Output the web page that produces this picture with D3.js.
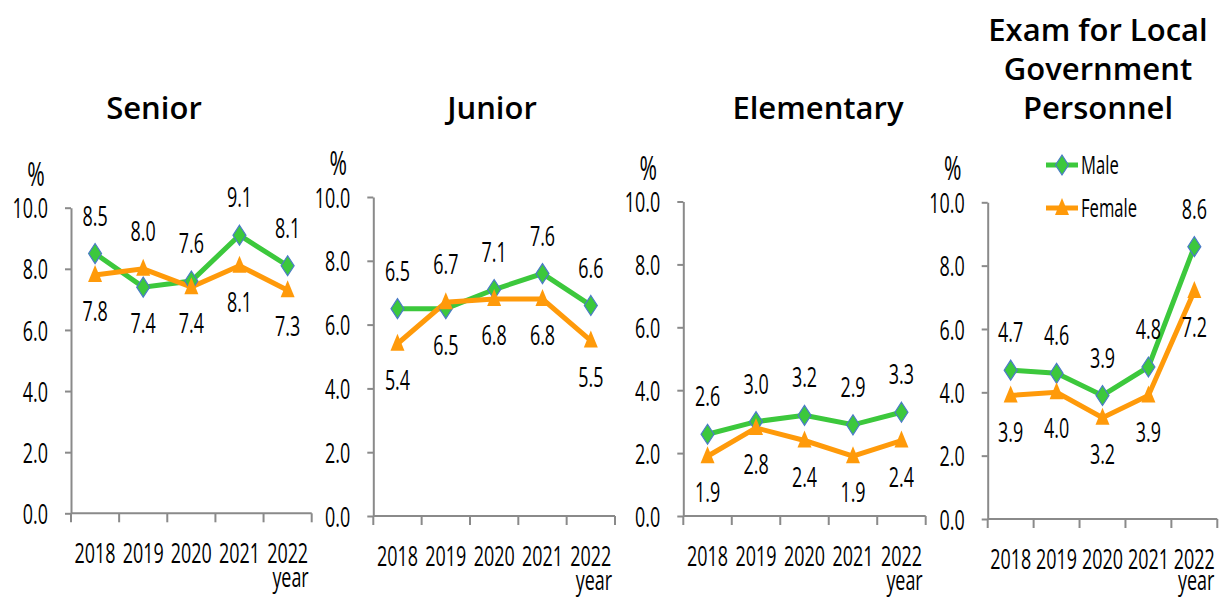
<!DOCTYPE html>
<html><head><meta charset="utf-8">
<script src="https://cdn.jsdelivr.net/npm/d3@7"></script>
<style>body{margin:0;background:#fff}svg{display:block}</style>
</head><body>
<svg id="c" width="1220" height="599"></svg>
<script>
// ---- data ----
const years = ["2018","2019","2020","2021","2022"];
const panelTitles = [["Senior"],["Junior"],["Elementary"],["Exam for Local","Government","Personnel"]];
const maleValues = [
  [8.5, 7.4, 7.6, 9.1, 8.1],
  [6.5, 6.5, 7.1, 7.6, 6.6],
  [2.6, 3.0, 3.2, 2.9, 3.3],
  [4.7, 4.6, 3.9, 4.8, 8.6]
];
const femaleValues = [
  [7.8, 8.0, 7.4, 8.1, 7.3],
  [5.4, 6.7, 6.8, 6.8, 5.5],
  [1.9, 2.8, 2.4, 1.9, 2.4],
  [3.9, 4.0, 3.2, 3.9, 7.2]
];
const yTicks = [0, 2, 4, 6, 8, 10];
const seriesNames = ["Male", "Female"];

// ---- layout ----
const layout = [
  {x0: 71,    x1: 311.7,  yTop: 207.7, yBot: 513.3, tx: 154},
  {x0: 373.3, x1: 615,    yTop: 197,   yBot: 516,   tx: 492},
  {x0: 683.3, x1: 925.7,  yTop: 201.5, yBot: 516,   tx: 818},
  {x0: 987.7, x1: 1217.3, yTop: 202.3, yBot: 519,   tx: 1098}
];
const GREEN = "#3cc83c", ORANGE = "#ff9a0a", AXIS = "#8a8a8a";
const SX = 0.64;            // horizontal squeeze of the small text
const FONT = "'Open Sans', sans-serif";
const svg = d3.select("#c");

function txt(g, x, y, s, size, anchor, extra) {
  const t = g.append("text")
    .attr("transform", `translate(${x},${y}) scale(${SX},1)`)
    .attr("text-anchor", anchor || "middle")
    .attr("font-family", FONT)
    .attr("font-size", size)
    .attr("fill", "#000")
    .text(s);
  if (extra) extra(t);
  return t;
}
const diamond = (cx, cy) => `M${cx},${cy-10}L${cx+6.5},${cy}L${cx},${cy+10}L${cx-6.5},${cy}Z`;
const triangle = (cx, cy) => `M${cx},${cy-10}L${cx+7},${cy+7}L${cx-7},${cy+7}Z`;

layout.forEach((L, i) => {
  const g = svg.append("g");
  const x = d3.scaleBand().domain(years).range([L.x0, L.x1]).padding(0);
  const y = d3.scaleLinear().domain([0, 10]).range([L.yBot, L.yTop]);

  // title
  const tl = panelTitles[i];
  tl.forEach((line, k) => {
    g.append("text").attr("x", L.tx).attr("y", 119 - (tl.length - 1 - k) * 39)
      .attr("text-anchor", "middle").attr("font-family", FONT)
      .attr("font-weight", 600).attr("font-size", 31).attr("fill", "#000").text(line);
  });

  // y axis
  const ya = g.append("g").attr("transform", `translate(${L.x0},0)`)
    .call(d3.axisLeft(y).tickValues(yTicks).tickFormat(d3.format(".1f")).tickSize(6).tickSizeOuter(0));
  ya.selectAll("path,line").attr("stroke", AXIS).attr("stroke-width", 2);
  ya.selectAll("text").attr("x", null).attr("dy", "0.36em")
    .attr("transform", `translate(-23,0) scale(${SX},1)`)
    .attr("font-family", FONT).attr("font-size", 28).attr("fill", "#000");

  // % unit
  txt(g, L.x0 - 35, L.yTop - 22, "%", 33, "middle");

  // x axis
  g.append("line").attr("x1", L.x0).attr("x2", L.x1).attr("y1", L.yBot).attr("y2", L.yBot)
    .attr("stroke", AXIS).attr("stroke-width", 2);
  const bounds = years.map(d => x(d)).concat([x(years[years.length-1]) + x.bandwidth()]);
  g.selectAll(".xt").data(bounds).join("line")
    .attr("x1", d => d).attr("x2", d => d).attr("y1", L.yBot).attr("y2", L.yBot + 9)
    .attr("stroke", AXIS).attr("stroke-width", 2);
  years.forEach(yr => txt(g, x(yr) + x.bandwidth() / 2, L.yBot + 50, yr, 28, "middle"));
  txt(g, L.x1 - 3, Math.min(L.yBot + 74, 590), "year", 28, "end");

  // lines
  const cx = d => x(d) + x.bandwidth() / 2;
  const line = d3.line().x((v, j) => cx(years[j])).y(v => y(v));
  const m = maleValues[i], f = femaleValues[i];
  g.append("path").attr("d", line(m)).attr("fill", "none").attr("stroke", GREEN).attr("stroke-width", 5);
  g.append("path").attr("d", line(f)).attr("fill", "none").attr("stroke", ORANGE).attr("stroke-width", 5);
  m.forEach((v, j) => g.append("path").attr("d", diamond(cx(years[j]), y(v)))
    .attr("fill", GREEN).attr("stroke", "#4a7ac8").attr("stroke-width", 1.2));
  f.forEach((v, j) => g.append("path").attr("d", triangle(cx(years[j]), y(v))).attr("fill", ORANGE));

  // labels: higher value above, lower below
  years.forEach((yr, j) => {
    const mv = m[j], fv = f[j];
    const mAbove = mv >= fv;
    txt(g, cx(yr), y(mv) + (mAbove ? -38 : 36), d3.format(".1f")(mv), 28, "middle", t => t.attr("dy", "0.36em"));
    txt(g, cx(yr), y(fv) + (mAbove ? 36 : -38), d3.format(".1f")(fv), 28, "middle", t => t.attr("dy", "0.36em"));
  });
});

// legend
const lg = svg.append("g");
[[165, GREEN, diamond], [208, ORANGE, triangle]].forEach(([ly, col, shape], k) => {
  lg.append("line").attr("x1", 1046).attr("x2", 1078).attr("y1", ly).attr("y2", ly)
    .attr("stroke", col).attr("stroke-width", 5);
  const p = lg.append("path").attr("d", shape(1062, ly)).attr("fill", col);
  if (k === 0) p.attr("stroke", "#4a7ac8").attr("stroke-width", 1.2);
  txt(lg, 1081, ly, seriesNames[k], 26, "start", t => t.attr("dy", "0.36em"));
});
</script>
</body></html>
